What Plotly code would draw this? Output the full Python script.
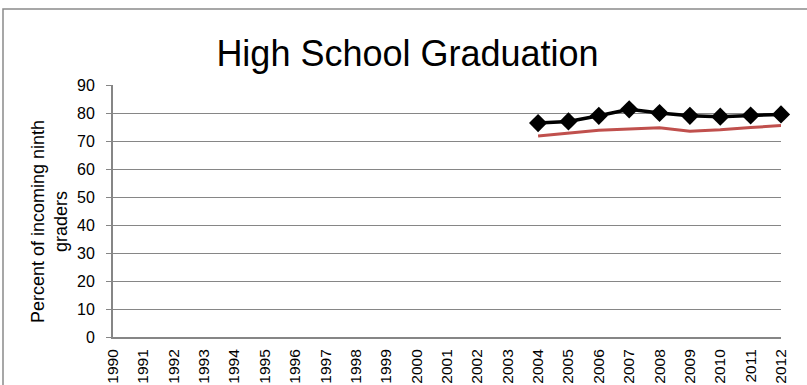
import plotly.graph_objects as go

# Graduation rates, percent of incoming ninth graders
years = list(range(1990, 2013))
data_years = [2004, 2005, 2006, 2007, 2008, 2009, 2010, 2011, 2012]
series_a = [76.4, 77.0, 79.0, 81.3, 80.0, 79.0, 78.7, 79.1, 79.5]
series_b = [71.8, 72.7, 73.8, 74.3, 74.7, 73.5, 74.0, 74.8, 75.5]
y_ticks = [0, 10, 20, 30, 40, 50, 60, 70, 80, 90]

FONT = "Liberation Sans, Arial, sans-serif"
GRID = "#868686"

fig = go.Figure()
fig.add_trace(go.Scatter(
    x=data_years, y=series_b, mode="lines",
    line=dict(color="#C0504D", width=3),
    cliponaxis=False, showlegend=False,
))
fig.add_trace(go.Scatter(
    x=data_years, y=series_a, mode="lines+markers",
    line=dict(color="#000000", width=3.5),
    marker=dict(symbol="diamond", size=14, color="#000000"),
    cliponaxis=False, showlegend=False,
))

fig.update_layout(
    width=807, height=385,
    margin=dict(l=113, r=26, t=85, b=48, autoexpand=False),
    paper_bgcolor="white", plot_bgcolor="white",
    font=dict(family=FONT, color="#000000", size=16),
    title=dict(
        text="High School Graduation",
        font=dict(family=FONT, size=36, color="#000000"),
        x=(218 + 597) / 2 / 807, xanchor="center",
        y=1 - 53 / 385, yanchor="middle", yref="container",
    ),
)

fig.update_xaxes(
    range=[1990, 2012], automargin=False,
    tickmode="array", tickvals=years, ticktext=[str(y) for y in years],
    tickangle=-90, ticks="", showgrid=False,
    showline=True, linecolor=GRID, linewidth=2,
    tickfont=dict(family=FONT, size=15.5),
    ticklabelstandoff=4,
)
fig.update_yaxes(
    range=[0, 90], automargin=False,
    tickmode="array", tickvals=y_ticks,
    showgrid=True, gridcolor=GRID, gridwidth=1,
    showline=True, linecolor=GRID, linewidth=2,
    ticks="outside", ticklen=5, tickcolor=GRID, tickwidth=1,
    tickfont=dict(family=FONT, size=16),
    ticklabelstandoff=8,
    zeroline=False,
)

# Y-axis caption placed as a rotated annotation
fig.add_annotation(
    text="Percent of incoming ninth<br>graders",
    xref="paper", yref="paper",
    x=(49 - 113) / 668, y=(337 - 222) / 252,
    xanchor="center", yanchor="middle",
    textangle=-90, showarrow=False,
    font=dict(family=FONT, size=18, color="#000000"),
)

# Chart-area border
fig.add_shape(
    type="rect", xref="paper", yref="paper",
    x0=(3 - 113) / 668, x1=1.3,
    y0=-0.5, y1=1 + (85 - 9) / 252,
    line=dict(color="#8A8A8A", width=1.5),
    fillcolor="rgba(0,0,0,0)", layer="below",
)

fig.write_html("out.html")
